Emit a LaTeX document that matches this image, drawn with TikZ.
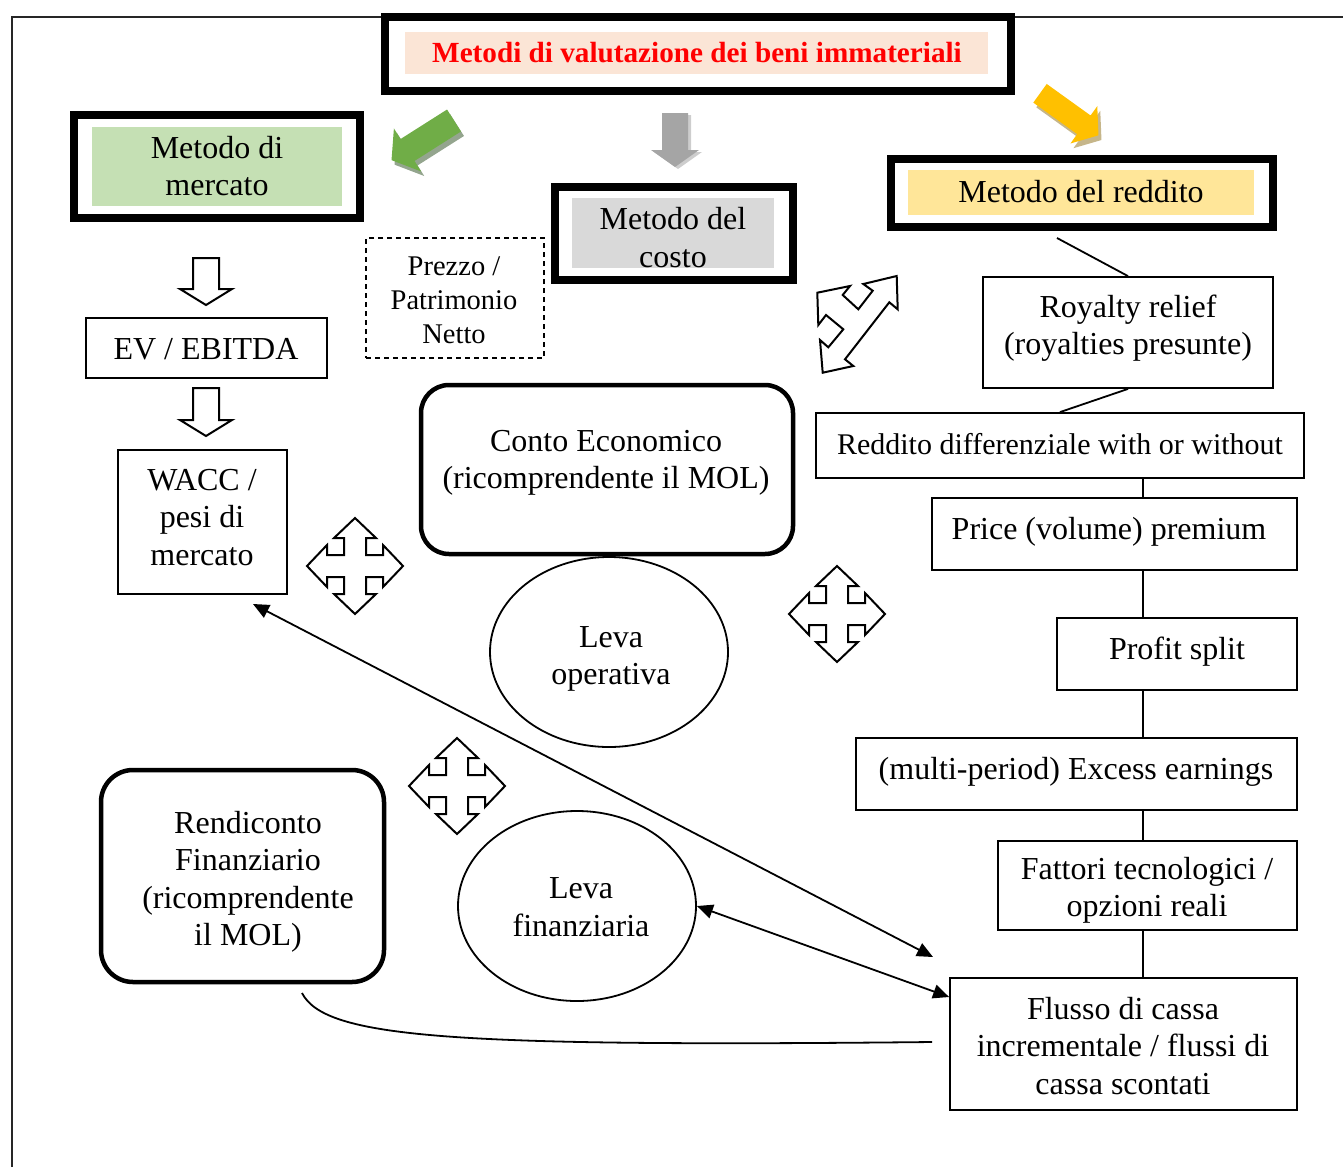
\documentclass[tikz,border=0pt]{standalone}
\usepackage{fontspec}
\setmainfont{Liberation Serif}
\usetikzlibrary{shapes.geometric,arrows.meta,calc}
\definecolor{titlered}{HTML}{FF0000}
\definecolor{pinkfill}{HTML}{FBE5D6}
\definecolor{greenfill}{HTML}{C5E0B4}
\definecolor{grayfill}{HTML}{D9D9D9}
\definecolor{yellowfill}{HTML}{FFE699}
\definecolor{arrgreen}{HTML}{70AD47}
\definecolor{arrgreenshadow}{HTML}{94A58E}
\definecolor{arrgray}{HTML}{A5A5A5}
\definecolor{arrgrayshadow}{HTML}{CDCDCD}
\definecolor{arryellow}{HTML}{FFC000}
\definecolor{arryellowshadow}{HTML}{C6B68A}
\newcommand{\fsa}{\fontsize{32pt}{37.5pt}\selectfont}
\newcommand{\fsb}{\fontsize{30pt}{35pt}\selectfont}
\newcommand{\fsc}{\fontsize{28.5pt}{34pt}\selectfont}
\newcommand{\fst}{\fontsize{29.2pt}{34pt}\selectfont}
% x, y, angle, length, shaft half width, head half width, head length, colour
\newcommand{\blockarrow}[8]{%
  \fill[#8,shift={(#1,#2)},rotate=#3] (0,#5) -- ({#4-#7},#5) -- ({#4-#7},#6) -- (#4,0)
    -- ({#4-#7},-#6) -- ({#4-#7},-#5) -- (0,-#5) -- cycle;}
% x, ytop, ybottom
\newcommand{\hollowdown}[3]{%
  \draw[hollow] (#1-13,#2) -- (#1+13,#2) -- (#1+13,#3-16) -- (#1+26,#3-16) -- (#1,#3)
    -- (#1-26,#3-16) -- (#1-13,#3-16) -- cycle;}
\begin{document}
\begin{tikzpicture}[x=1pt,y=-1pt,
  thinbox/.style={draw,line width=1.8pt,fill=white,inner sep=0pt},
  thickbox/.style={draw,line width=8pt,fill=white,inner sep=0pt},
  roundbox/.style={draw,line width=4.5pt,rounded corners=28pt,fill=white,inner sep=0pt},
  ovalbox/.style={ellipse,draw,line width=1.8pt,fill=white,inner sep=0pt},
  fillbox/.style={draw=none,inner sep=0pt},
  txt/.style={align=center,inner sep=0pt,font=\fsa},
  conn/.style={line width=1.8pt},
  dbl/.style={line width=1.8pt,{Triangle[length=16pt,width=14pt]}-{Triangle[length=16pt,width=14pt]}},
  hollow/.style={draw,line width=2pt,fill=white,line join=miter},
  fourway/.pic={\draw[hollow] (-11,11) -- (-11,28) -- (-21,28) -- (0,48) -- (21,28) -- (11,28) -- (11,11)
     -- (28,11) -- (28,21) -- (48,0) -- (28,-21) -- (28,-11) -- (11,-11) -- (11,-28) -- (21,-28)
     -- (0,-48) -- (-21,-28) -- (-11,-28) -- (-11,-11) -- (-28,-11) -- (-28,-21) -- (-48,0)
     -- (-28,21) -- (-28,11) -- cycle;}
]
\useasboundingbox (0,0) rectangle (1343,1167);
% frame
\draw[line width=2.2pt,black!85] (12,1167) -- (12,17) -- (1343,17);

% title
\node[thickbox,minimum width=626pt,minimum height=74pt] (tbox) at (698,54) {};
\node[fillbox,fill=pinkfill,minimum width=583pt,minimum height=42pt] (tfill) at (696.5,53) {};
\node[txt,font=\fst\bfseries,text=titlered] (ttext) at (697,53) {Metodi di valutazione dei beni immateriali};

% three methods
\node[thickbox,minimum width=286pt,minimum height=103pt] (mm) at (217,166.5) {};
\node[fillbox,fill=greenfill,minimum width=250pt,minimum height=79pt] (mmf) at (217,166.5) {};
\node[txt] (mmt) at (217,166) {Metodo di\\mercato};

\node[thickbox,minimum width=238pt,minimum height=93pt] (mc) at (674,233.5) {};
\node[fillbox,fill=grayfill,minimum width=202pt,minimum height=70pt] (mcf) at (673,233) {};
\node[txt] (mct) at (673,237.5) {Metodo del\\costo};

\node[thickbox,minimum width=382pt,minimum height=68pt] (mr) at (1082,193) {};
\node[fillbox,fill=yellowfill,minimum width=346pt,minimum height=45pt] (mrf) at (1081,192.5) {};
\node[txt] (mrt) at (1081,192) {Metodo del reddito};

% block arrows
\blockarrow{457}{125}{212.4}{74}{13}{25.5}{19}{arrgreenshadow}
\blockarrow{454}{120.5}{212.4}{74}{13}{25.5}{19}{arrgreen}
\blockarrow{678}{115}{270}{54}{13}{24}{17}{arrgrayshadow}
\blockarrow{675}{113}{270}{54}{13}{24}{17}{arrgray}
\blockarrow{1043}{98}{-35.7}{72}{11.5}{23}{18}{arryellowshadow}
\blockarrow{1040}{93.3}{-35.7}{72}{11.5}{23}{18}{arryellow}

% market column
\hollowdown{206}{258}{305}
\node[thinbox,minimum width=241pt,minimum height=60pt] (ev) at (206.5,348) {};
\node[txt] (evt) at (206,349) {EV / EBITDA};
\hollowdown{206}{388}{436}
\node[thinbox,minimum width=169pt,minimum height=144pt] (wacc) at (202.5,522) {};
\node[txt] (wacct) at (202,517.5) {WACC /\\pesi di\\mercato};

\node[thinbox,dash pattern=on 5pt off 4pt,minimum width=178pt,minimum height=120pt] (pz) at (455,298) {};
\node[txt,font=\fsc] (pzt) at (454,300) {Prezzo /\\Patrimonio\\Netto};

% centre
\node[roundbox,minimum width=372pt,minimum height=169pt] (ce) at (607,469.5) {};
\node[txt] (cet) at (606,463) {Conto Economico\\(ricomprendente il MOL)};
\node[ovalbox,minimum width=238pt,minimum height=190pt] (lo) at (609,652) {};
\node[txt] (lot) at (611,659) {Leva\\operativa};
\node[ovalbox,minimum width=238pt,minimum height=190pt] (lf) at (577,906) {};
\node[txt] (lft) at (581,907) {Leva\\finanziaria};
\node[roundbox,rounded corners=32pt,minimum width=283pt,minimum height=212pt] (rf) at (242.5,876) {};
\node[txt] (rft) at (248,882) {Rendiconto\\Finanziario\\(ricomprendente\\il MOL)};

% four-way arrows
\pic at (355,566) {fourway};
\pic at (837,614) {fourway};
\pic at (457,786) {fourway};
% three-headed diagonal arrow
\draw[hollow] (896.7,276) -- (897.7,309.3) -- (889.3,302.3) -- (845,359.3) -- (853.3,366)
  -- (822.7,372.7) -- (820,340) -- (828.3,347.3) -- (843.3,329.3) -- (826,315) -- (818.3,325)
  -- (817.3,292.7) -- (850,286) -- (842.7,295) -- (858.3,309.3) -- (872.7,290.7) -- (863.3,284) -- cycle;

% income column
\coordinate (c1) at (1057,238);
\coordinate (c2) at (1060,0);
\coordinate (vx) at (1143,0);
\node[thinbox,minimum width=290pt,minimum height=111pt] (roy) at (1128,332.5) {};
\node[thinbox,minimum width=488pt,minimum height=65pt] (rd) at (1060,445.5) {};
\node[thinbox,minimum width=365pt,minimum height=72pt] (pp) at (1114.5,534) {};
\node[thinbox,minimum width=240pt,minimum height=72pt] (ps) at (1177,654) {};
\node[thinbox,minimum width=441pt,minimum height=72pt] (me) at (1076.5,774) {};
\node[thinbox,minimum width=299pt,minimum height=89pt] (ft) at (1147.5,885.5) {};
\node[thinbox,minimum width=347pt,minimum height=132pt] (fl) at (1123.5,1044) {};
\draw[conn] (c1) -- (roy.north);
\draw[conn] (roy.south) -- (rd.north -| c2);
\draw[conn] (rd.south -| vx) -- (pp.north -| vx);
\draw[conn] (pp.south -| vx) -- (ps.north -| vx);
\draw[conn] (ps.south -| vx) -- (me.north -| vx);
\draw[conn] (me.south -| vx) -- (ft.north -| vx);
\draw[conn] (ft.south -| vx) -- (fl.north -| vx);
\node[txt] (royt) at (1128,328) {Royalty relief\\(royalties presunte)};
\node[txt,font=\fsb] (rdt) at (1060,444.5) {Reddito differenziale with or without};
\node[txt] (ppt) at (1109,532) {Price (volume) premium};
\node[txt] (pst) at (1177,652) {Profit split};
\node[txt] (met) at (1076,772) {(multi-period) Excess earnings};
\node[txt] (ftt) at (1147,890.5) {Fattori tecnologici /\\opzioni reali};
\node[txt] (flt) at (1123,1046) {Flusso di cassa\\incrementale / flussi di\\cassa scontati};

% long connectors
\coordinate (a1) at (253,604);
\coordinate (a2) at (933,957);
\draw[dbl] (a1) -- (a2);
\coordinate (c3) at (0,997);
\draw[dbl] (lf.east) -- (fl.west |- c3);
\coordinate (r1) at (302,993);
\coordinate (r2) at (932,1042);
\draw[conn] (r1) .. controls (325,1038) and (450,1047) .. (r2);
\end{tikzpicture}
\end{document}
